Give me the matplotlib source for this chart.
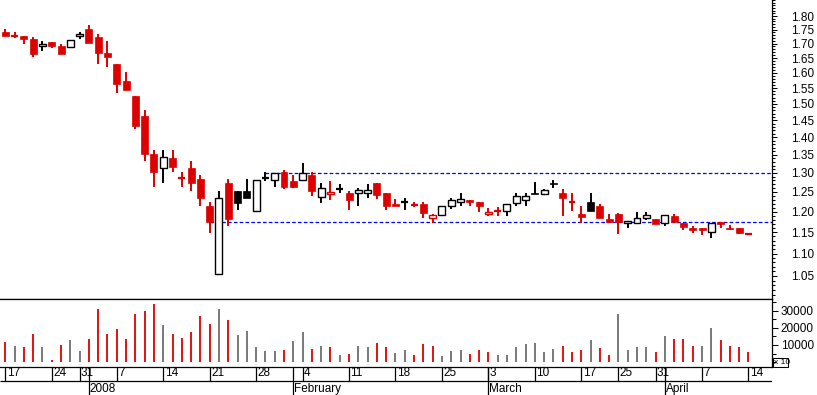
import numpy as np
import pandas as pd
import matplotlib
matplotlib.use("Agg")
import matplotlib.pyplot as plt
from matplotlib.ticker import FixedLocator, FixedFormatter, NullFormatter
from matplotlib.patches import Rectangle

plt.rcParams['font.family'] = ['Liberation Sans', 'DejaVu Sans']
plt.rcParams['lines.scale_dashes'] = False

# trading days 17 Dec 2007 - 14 Apr 2008 (UK holidays left out)
holidays = ['2007-12-25', '2007-12-26', '2008-01-01', '2008-03-21', '2008-03-24']
dates = [d for d in pd.bdate_range('2007-12-17', '2008-04-14') if d.strftime('%Y-%m-%d') not in holidays]

opens = [1.740, 1.728, 1.728, 1.715, 1.692, 1.705, 1.690, 1.689, 1.726, 1.752,
         1.725, 1.667, 1.630, 1.573, 1.525, 1.463, 1.351, 1.313, 1.341, 1.287,
         1.314, 1.284, 1.214, 1.054, 1.273, 1.252, 1.252, 1.202, 1.286, 1.282,
         1.302, 1.278, 1.281, 1.295, 1.236, 1.245, 1.257, 1.248, 1.246, 1.246,
         1.273, 1.246, 1.218, 1.225, 1.217, 1.218, 1.184, 1.191, 1.214, 1.225,
         1.228, 1.225, 1.193, 1.201, 1.202, 1.222, 1.229, 1.247, 1.245, 1.272,
         1.248, 1.223, 1.195, 1.223, 1.214, 1.182, 1.194, 1.173, 1.173, 1.183,
         1.181, 1.173, 1.188, 1.173, 1.160, 1.159, 1.150, 1.174, 1.161, 1.160,
         1.146]
highs = [1.752, 1.740, 1.728, 1.725, 1.708, 1.705, 1.697, 1.714, 1.740, 1.768,
         1.735, 1.711, 1.630, 1.603, 1.525, 1.481, 1.363, 1.363, 1.363, 1.303,
         1.333, 1.295, 1.225, 1.252, 1.284, 1.252, 1.284, 1.282, 1.302, 1.300,
         1.308, 1.295, 1.326, 1.303, 1.273, 1.278, 1.270, 1.252, 1.259, 1.270,
         1.273, 1.246, 1.231, 1.234, 1.225, 1.225, 1.194, 1.214, 1.234, 1.246,
         1.228, 1.225, 1.208, 1.212, 1.218, 1.246, 1.246, 1.275, 1.257, 1.280,
         1.257, 1.246, 1.214, 1.246, 1.218, 1.194, 1.197, 1.177, 1.199, 1.199,
         1.181, 1.191, 1.194, 1.173, 1.165, 1.159, 1.173, 1.174, 1.168, 1.160,
         1.149]
lows = [1.727, 1.720, 1.700, 1.652, 1.675, 1.683, 1.665, 1.683, 1.716, 1.703,
        1.628, 1.620, 1.536, 1.545, 1.424, 1.334, 1.263, 1.274, 1.303, 1.263,
        1.253, 1.215, 1.147, 1.054, 1.165, 1.204, 1.235, 1.200, 1.278, 1.263,
        1.258, 1.261, 1.278, 1.240, 1.221, 1.229, 1.247, 1.204, 1.215, 1.235,
        1.231, 1.204, 1.215, 1.204, 1.212, 1.184, 1.171, 1.191, 1.206, 1.215,
        1.215, 1.200, 1.190, 1.190, 1.190, 1.215, 1.215, 1.244, 1.243, 1.259,
        1.190, 1.202, 1.173, 1.202, 1.183, 1.175, 1.146, 1.161, 1.173, 1.180,
        1.170, 1.165, 1.175, 1.155, 1.149, 1.142, 1.136, 1.161, 1.155, 1.145,
        1.143]
closes = [1.727, 1.728, 1.716, 1.665, 1.700, 1.693, 1.665, 1.714, 1.733, 1.703,
          1.669, 1.652, 1.563, 1.545, 1.434, 1.353, 1.303, 1.343, 1.315, 1.287,
          1.274, 1.235, 1.175, 1.235, 1.182, 1.222, 1.235, 1.282, 1.286, 1.300,
          1.263, 1.263, 1.299, 1.253, 1.259, 1.250, 1.257, 1.229, 1.255, 1.254,
          1.241, 1.215, 1.215, 1.225, 1.217, 1.196, 1.191, 1.214, 1.228, 1.231,
          1.223, 1.215, 1.199, 1.201, 1.218, 1.240, 1.240, 1.244, 1.255, 1.270,
          1.235, 1.223, 1.186, 1.202, 1.183, 1.175, 1.175, 1.177, 1.184, 1.191,
          1.170, 1.191, 1.175, 1.163, 1.155, 1.155, 1.173, 1.170, 1.157, 1.149,
          1.146]
candle_col = ("rrrrkrrkkr" "rrrrrrrkrr" "rrrkrkkkkk" "rrkrkrkrkk" "rrrkrrrkkk"
              "rrrrkkkkkk" "rrrkrrrkkk" "rkrrrrkrrr" "r")

volume = [11740, 9410, 8830, 16380, 8830, 1280, 9990, 13070, 6510, 13650,
          30910, 16380, 19460, 13650, 28000, 29920, 33810, 21610, 16380, 14060,
          17550, 26840, 22190, 30910, 24520, 15800, 18130, 8830, 6510, 6510,
          7090, 12320, 17550, 7670, 9410, 8830, 4180, 4760, 9410, 8830,
          11160, 8830, 5350, 7090, 4180, 10570, 9410, 3600, 6510, 7090,
          4760, 7090, 5930, 4180, 4180, 8830, 10570, 11160, 5930, 7670,
          9410, 5930, 7090, 12900, 8250, 4180, 28000, 7090, 8830, 8830,
          5930, 15220, 13480, 13480, 9410, 9410, 19870, 12900, 9410, 8830,
          5930]
vol_col = ("rgrrgrrggr" "rrrrrrrgrr" "rrrgrggggg" "rggrgrgrgg" "rrggrrrggg"
           "rrrggggggg" "rrrgrrgggg" "rgrrrggrrr" "r")

# dashed levels: price, first day index
levels = [1.30, 1.174]
level_start = [28, 22]

RED = '#dc0000'
GRAY = '#6e6e6e'

W, H = 817, 395
fig = plt.figure(figsize=(W / 100, H / 100), dpi=100)


def box(x0, y0, x1, y1):
    return [x0 / W, (H - y1) / H, (x1 - x0) / W, (y1 - y0) / H]


axp = fig.add_axes(box(0, 0, 772, 299))
axv = fig.add_axes(box(0, 299, 772, 366.7))
axd = fig.add_axes(box(0, 366.7, 772, 395))

x = np.arange(len(dates))
xlim = (-0.57, 82.53)
o = np.array(opens); h = np.array(highs); l = np.array(lows); c = np.array(closes)
cols = [RED if k == 'r' else 'black' for k in candle_col]

# price panel
axp.vlines(x, l, h, colors=cols, lw=1.4, zorder=2)
bw = 0.75
for i in x:
    top, bot = max(o[i], c[i]), min(o[i], c[i])
    if abs(o[i] - c[i]) < 0.0015:
        axp.hlines(c[i], i - bw / 2, i + bw / 2, colors=cols[i], lw=1.6, zorder=3)
    elif c[i] < o[i]:
        axp.bar(i, top - bot, bottom=bot, width=bw, color=cols[i], edgecolor=cols[i], lw=0.5, zorder=3)
    else:
        axp.bar(i, top - bot, bottom=bot, width=bw, facecolor='white', edgecolor=cols[i], lw=1.0, zorder=3)

for lv, st in zip(levels, level_start):
    axp.hlines(lv, st, xlim[1], colors='#0000ff', lw=0.9, linestyles=(0, (2.6, 1.6)), zorder=1)

axp.set_yscale('log')
axp.set_ylim(1.001, 1.861)
axp.set_xlim(*xlim)
axp.set_xticks([])
majors = np.round(np.arange(1.05, 1.801, 0.05), 2)
minors = [v for v in np.round(np.arange(1.01, 1.86, 0.01), 2) if v not in majors]
axp.yaxis.tick_right()
axp.yaxis.set_major_locator(FixedLocator(majors))
axp.yaxis.set_major_formatter(FixedFormatter(['%.2f' % v for v in majors]))
axp.yaxis.set_minor_locator(FixedLocator(minors))
axp.yaxis.set_minor_formatter(NullFormatter())
axp.tick_params(axis='y', which='major', length=3.6, width=0.75, pad=10, labelsize=8.5)
axp.tick_params(axis='y', which='minor', length=2.2, width=0.75)
for s in ['top', 'left']:
    axp.spines[s].set_visible(False)
for s in ['right', 'bottom']:
    axp.spines[s].set_linewidth(0.9)

# volume panel
vcols = [RED if k == 'r' else GRAY for k in vol_col]
axv.vlines(x, 0, volume, colors=vcols, lw=1.3)
axv.set_xlim(*xlim)
axv.set_ylim(-2600, 36700)
axv.set_xticks([])
axv.yaxis.tick_right()
axv.yaxis.set_major_locator(FixedLocator([10000, 20000, 30000]))
axv.yaxis.set_major_formatter(FixedFormatter(['10000', '20000', '30000']))
axv.yaxis.set_minor_locator(FixedLocator([0, 5000, 15000, 25000, 35000]))
axv.tick_params(axis='y', which='major', length=4.3, width=0.75, pad=2, labelsize=8.5)
axv.tick_params(axis='y', which='minor', length=2.8, width=0.75)
axv.spines['left'].set_visible(False)
for s in ['right', 'bottom', 'top']:
    axv.spines[s].set_linewidth(0.9)

# date strip
axd.set_xlim(*xlim)
axd.set_ylim(0, 1)
axd.axis('off')
mid = (395 - 381) / 28.3
axd.hlines(mid, xlim[0], xlim[1], colors='black', lw=0.9)
for i, d in enumerate(dates):
    if i == 0 or d.isocalendar()[1] != dates[i - 1].isocalendar()[1]:
        axd.vlines(i, mid, 1, colors='black', lw=0.9)
        axd.text(i + 0.15, 0.78, str(d.day), ha='left', va='center', fontsize=8.5)
    if i > 0 and d.month != dates[i - 1].month:
        axd.vlines(i, 0, 1, colors='black', lw=0.9)
        lab = str(d.year) if d.month == 1 else d.strftime('%B')
        axd.text(i + 0.1, 0.1, lab, ha='left', va='baseline', fontsize=8.5)

# "x 10" box under volume scale
fig.add_artist(Rectangle((773 / W, (H - 366.7) / H), 15 / W, 8.7 / H, transform=fig.transFigure,
                         fill=False, lw=0.75, ec='black', zorder=5))
fig.text(774.5 / W, (H - 362.3) / H, 'x 10', fontsize=6, ha='left', va='center', zorder=6)

fig.savefig('out.png', dpi=100)
